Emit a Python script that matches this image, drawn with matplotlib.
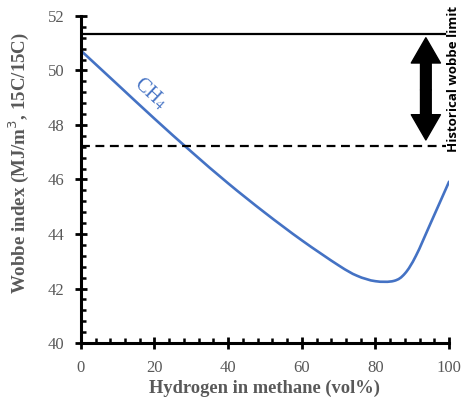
import matplotlib
matplotlib.use("Agg")
import matplotlib.pyplot as plt
from matplotlib.path import Path
from matplotlib.patches import PathPatch
from matplotlib.ticker import MultipleLocator

# Wobbe index of hydrogen/methane blends
h2_pct = [0, 10, 20, 30, 40, 50, 60, 70, 75, 80, 85, 88, 91, 95, 100]
wobbe = [50.73, 49.48, 48.23, 47.02, 45.86, 44.78, 43.77, 42.85, 42.47, 42.27, 42.28, 42.55,
         43.2, 44.4, 45.92]

upper_limit = 51.34
lower_limit = 47.23

grey = "#595959"
serif = "Liberation Serif"


def smooth_path(xs, ys, k=1 / 6):
    # cubic Bezier through every point, Catmull-Rom style tangents
    verts = [(xs[0], ys[0])]
    codes = [Path.MOVETO]
    n = len(xs)
    for i in range(n - 1):
        x0, y0 = xs[max(i - 1, 0)], ys[max(i - 1, 0)]
        x1, y1 = xs[i], ys[i]
        x2, y2 = xs[i + 1], ys[i + 1]
        x3, y3 = xs[min(i + 2, n - 1)], ys[min(i + 2, n - 1)]
        verts += [(x1 + (x2 - x0) * k, y1 + (y2 - y0) * k),
                  (x2 - (x3 - x1) * k, y2 - (y3 - y1) * k),
                  (x2, y2)]
        codes += [Path.CURVE4] * 3
    return Path(verts, codes)


fig = plt.figure(figsize=(4.62, 3.98), dpi=100)
ax = fig.add_axes([0.175, 0.138, 0.797, 0.822])

ax.add_patch(PathPatch(smooth_path(h2_pct, wobbe), facecolor="none", edgecolor="#4472C4",
                       lw=1.9, capstyle="round"))
ax.plot([0, 99], [upper_limit, upper_limit], color="black", lw=1.6)
ax.plot([0, 99.3], [lower_limit, lower_limit], color="black", lw=1.6, dashes=(4, 2.5))

# double-headed arrow between the two limits
mid = (upper_limit + lower_limit) / 2
for end in (51.2, 47.45):
    ax.annotate("", xy=(93.7, end), xytext=(93.7, mid),
                arrowprops=dict(arrowstyle="simple,head_length=1.3,head_width=1.5,tail_width=0.55",
                                color="black", mutation_scale=14, shrinkA=0, shrinkB=0))

ax.text(101.2, 49.67, "Historical wobbe limit", rotation=90, ha="center", va="center",
        fontsize=9.5, fontweight="bold", family="Open Sans", clip_on=False)

ax.text(18.8, 49.15, "CH$_4$", rotation=-43, ha="center", va="center", color="#4472C4",
        fontsize=14.5, family=serif, math_fontfamily="stix")

ax.set_xlim(0, 100)
ax.set_ylim(40, 52)
ax.xaxis.set_major_locator(MultipleLocator(20))
ax.xaxis.set_minor_locator(MultipleLocator(4))
ax.yaxis.set_major_locator(MultipleLocator(2))
ax.yaxis.set_minor_locator(MultipleLocator(0.4))

for side in ("top", "right"):
    ax.spines[side].set_visible(False)
for side in ("left", "bottom"):
    ax.spines[side].set_linewidth(2.2)

ax.tick_params(which="major", direction="inout", length=8, width=2, colors="black",
               labelcolor=grey, labelsize=12, pad=8)
ax.tick_params(which="minor", direction="in", length=3.5, width=1.8, colors="black")
for lbl in ax.get_xticklabels() + ax.get_yticklabels():
    lbl.set_family(serif)

ax.set_xlabel("Hydrogen in methane (vol%)", family=serif, fontweight="bold", color=grey,
              fontsize=13.3)
ax.xaxis.set_label_coords(0.5, -0.112)
ax.set_ylabel("Wobbe index (MJ/m$^3$, 15C/15C)", family=serif, fontweight="bold", color=grey,
              fontsize=13.6)
ax.yaxis.set_label_coords(-0.135, 0.55)

fig.savefig("out.png", dpi=100)
